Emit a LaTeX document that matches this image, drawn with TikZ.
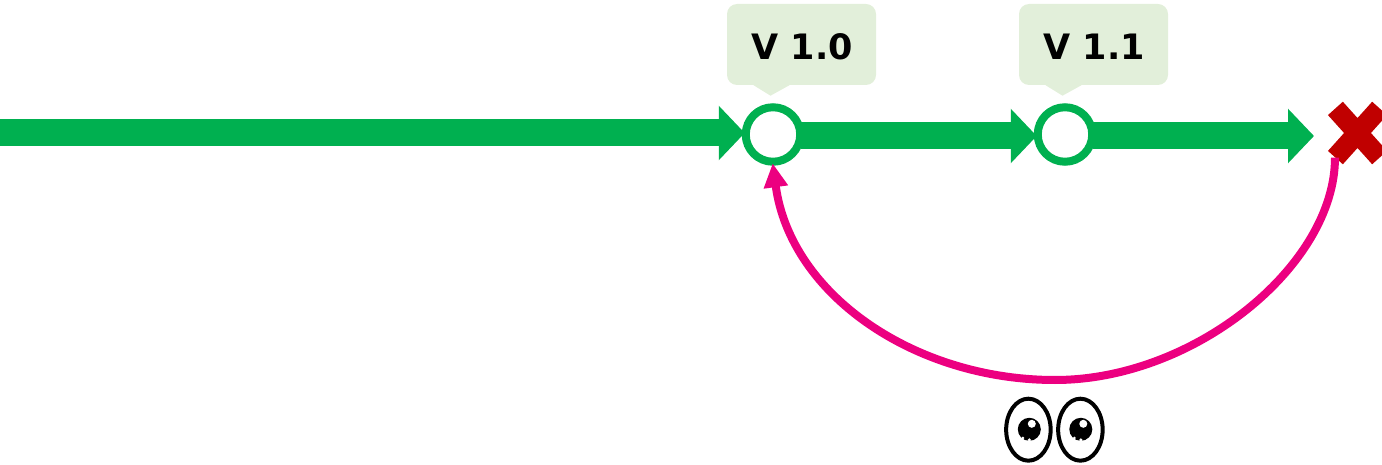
\documentclass[tikz,border=0pt]{standalone}
\usepackage{fontspec}
\setmainfont{DejaVu Sans}
\usepackage{tikz}
\usetikzlibrary{arrows.meta,shapes.misc,shapes.geometric,backgrounds}

\definecolor{flowgreen}{HTML}{00B050}
\definecolor{taggreen}{HTML}{E2EFDA}
\definecolor{backpink}{HTML}{EC0080}
\definecolor{failred}{HTML}{C00000}

\tikzset{
	version/.style={circle,draw=flowgreen,fill=white,line width=8pt,minimum size=54.5pt,inner sep=0pt},
	flow/.style={draw=flowgreen,line width=27pt,shorten <=-3pt,-{Triangle[length=26pt,width=53pt]}},
	tag/.style={rectangle,rounded corners=10pt,fill=taggreen,minimum width=149pt,minimum height=81pt,inner sep=0pt,font=\fontsize{35}{40}\selectfont\bfseries,text height=30pt},
	eyeball/.style={ellipse,draw=black,fill=white,line width=4pt,minimum width=44.5pt,minimum height=62pt,inner sep=0pt},
}

\begin{document}
\begin{tikzpicture}[x=1pt,y=-1pt]
	\useasboundingbox (0,0) rectangle (1382,465);

	% versions
	\node[version] (v10) at (773,134.5) {};
	\node[version] (v11) at (1065,134.5) {};
	\coordinate (start) at (0,133);
	\coordinate (stop) at (1314,136);

	% tags
	\node[tag] (t10) at (801.5,44.5) {\hspace{1pt}V 1.0};
	\node[tag] (t11) at (1093.5,44.5) {\hspace{1pt}V 1.1};
	\fill[taggreen] ([xshift=-48pt]t10.south) -- ([xshift=-31pt,yshift=-10.5pt]t10.south) -- ([xshift=-12pt]t10.south) -- cycle;
	\fill[taggreen] ([xshift=-48pt]t11.south) -- ([xshift=-31pt,yshift=-10.5pt]t11.south) -- ([xshift=-12pt]t11.south) -- cycle;

	% flow
	\begin{scope}[on background layer]
		\draw[flow,shorten >=-3pt] (start) -- (start -| v10.west);
		\draw[flow,shorten >=-3pt] ([yshift=-1.5pt]v10.east) -- ([yshift=-1.5pt]v11.west);
		\draw[flow] ([yshift=-1.5pt]v11.east) -- (stop);
	\end{scope}

	% cross
	\node[cross out,draw=failred,line width=20pt,minimum width=44.2pt,minimum height=49.2pt,inner sep=0pt,outer sep=0pt] (fail) at (1357.5,133) {};

	% way back
	\draw[draw=backpink,line width=8pt,shorten >=-2.5pt,-{Triangle[length=24pt,width=23pt]}] ([xshift=-22.5pt]fail.south) .. controls (1335,265) and (1195,380) .. (1055,380) .. controls (915,380) and (790.5,295) .. (v10.south);

	% eyes
	\node[eyeball] (e1) at (1028.4,429.7) {};
	\node[eyeball] (e2) at (1080.4,429.7) {};
	\foreach \x in {1029.3,1080.8} {
		\fill[black] (\x,429.3) circle (11.5pt);
		\fill[white] (\x+2.5,423.8) circle (4pt);
		\fill[white] (\x-6.5,438) circle (1.5pt);
		\fill[white] (\x,440) circle (1.8pt);
	}
\end{tikzpicture}
\end{document}
